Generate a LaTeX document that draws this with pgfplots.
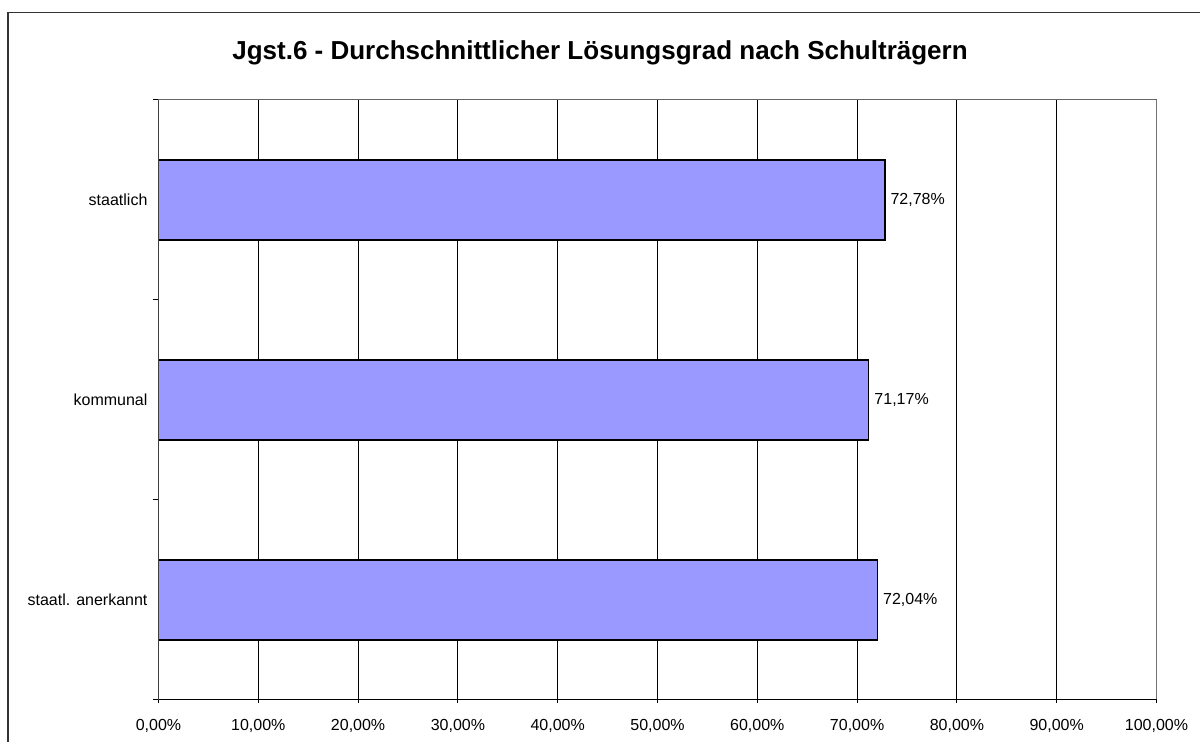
\documentclass[border=0pt]{standalone}
\usepackage{pgfplots}
\pgfplotsset{compat=1.18}
\usepackage{fontspec}
\setmainfont{Liberation Sans}
\definecolor{barblue}{HTML}{9999FF}
\begin{document}
\begin{tikzpicture}
\path[use as bounding box] (0pt,0pt) rectangle (600pt,371pt);
\draw[black!80, line width=0.75pt] (4pt,-20pt) rectangle (620pt,364.75pt);
\node[font=\bfseries\fontsize{13}{15}\selectfont] at (300pt,344.5pt) {Jgst.6 - Durchschnittlicher Lösungsgrad nach Schulträgern};
\begin{axis}[
  at={(79.25pt,21pt)}, anchor=south west,
  width=499pt, height=300pt, scale only axis,
  xmin=0, xmax=100, ymin=0.5, ymax=3.5,
  xtick={0,10,...,100},
  xticklabels={{0,00\%},{10,00\%},{20,00\%},{30,00\%},{40,00\%},{50,00\%},{60,00\%},{70,00\%},{80,00\%},{90,00\%},{100,00\%}},
  ytick={1,2,3},
  yticklabels={staatl. anerkannt,kommunal,staatlich},
  minor ytick={0.5,1.5,2.5,3.5},
  xtick pos=bottom, ytick pos=left,
  tick align=outside,
  major tick length=1.5pt, minor tick length=2.5pt,
  major y tick style={draw=none},
  minor y tick style={black, line width=0.5pt},
  major x tick style={black, line width=0.5pt},
  xmajorgrids, grid style={black, line width=0.5pt},
  axis line style={draw=none},
  tick label style={font=\fontsize{8}{9.6}\selectfont, black},
  xticklabel style={yshift=-4.5pt},
  yticklabel style={xshift=-0.5pt},
  clip=false,
]
\addplot[xbar, fill=barblue, draw=black, line width=0.7pt, bar width=40pt,
  nodes near coords, point meta=explicit symbolic,
  every node near coord/.append style={font=\fontsize{8}{9.6}\selectfont, black, anchor=west, inner sep=2.5pt}]
  coordinates {(72.04,1)[72,04\%] (71.17,2)[71,17\%] (72.78,3)[72,78\%]};
\draw[black!60, line width=0.5pt] (rel axis cs:0,1) -- (rel axis cs:1,1);
\draw[black!55, line width=0.75pt] (rel axis cs:1,0) -- (rel axis cs:1,1);
\draw[black, line width=0.5pt] (rel axis cs:0,0) -- (rel axis cs:1,0);
\draw[black!75, line width=0.9pt] (rel axis cs:0,0) -- (rel axis cs:0,1);
\end{axis}
\end{tikzpicture}
\end{document}
